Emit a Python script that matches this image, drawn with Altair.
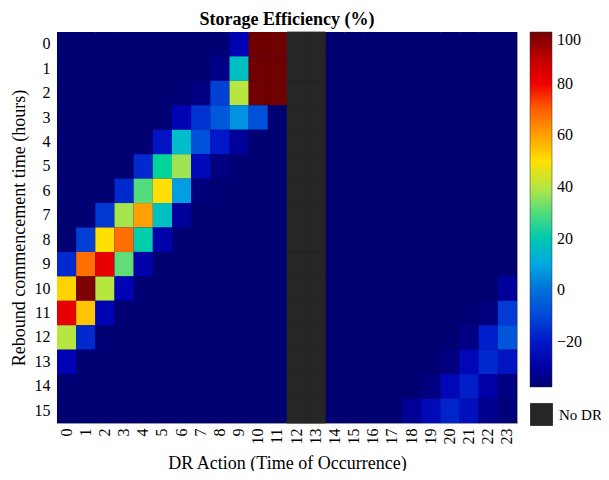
import altair as alt
import pandas as pd

hours = list(range(24))
rebound = list(range(16))
N = None
B = -37

r0 = [B, B, B, B, B, B, B, B, B, -27, 100, 100, N, N, B, B, B, B, B, B, B, B, B, B]
r1 = [B, B, B, B, B, B, B, B, -34, 17, 100, 100, N, N, B, B, B, B, B, B, B, B, B, B]
r2 = [B, B, B, B, B, B, B, -35, -12, 40, 100, 100, N, N, B, B, B, B, B, B, B, B, B, B]
r3 = [B, B, B, B, B, B, -27, -15, -6, 6, -8, B, N, N, B, B, B, B, B, B, B, B, B, B]
r4 = [B, B, B, B, B, -22, 16, -8, -20, -31, B, B, N, N, B, B, B, B, B, B, B, B, B, B]
r5 = [B, B, B, B, -17, 25, 37, -25, -35, B, B, B, N, N, B, B, B, B, B, B, B, B, B, B]
r6 = [B, B, B, -17, 30, 50, 8, -36, B, B, B, B, N, N, B, B, B, B, B, B, B, B, B, B]
r7 = [B, B, -14, 38, 60, 17, -31, B, B, B, B, B, N, N, B, B, B, B, B, B, B, B, B, B]
r8 = [B, -12, 50, 68, 22, -29, B, B, B, B, B, B, N, N, B, B, B, B, B, B, B, B, B, B]
r9 = [-17, 68, 82, 31, -29, B, B, B, B, B, B, B, N, N, B, B, B, B, B, B, B, B, B, B]
r10 = [52, 98, 40, -27, B, B, B, B, B, B, B, B, N, N, B, B, B, B, B, B, B, B, B, -31]
r11 = [82, 54, -27, B, B, B, B, B, B, B, B, B, N, N, B, B, B, B, B, B, B, B, -35, -13]
r12 = [40, -17, B, B, B, B, B, B, B, B, B, B, N, N, B, B, B, B, B, B, B, -34, -19, -7]
r13 = [-27, B, B, B, B, B, B, B, B, B, B, B, N, N, B, B, B, B, B, B, -35, -26, -17, -22]
r14 = [B, B, B, B, B, B, B, B, B, B, B, B, N, N, B, B, B, B, B, -35, -26, -19, -29, -35]
r15 = [B, B, B, B, B, B, B, B, B, B, B, B, N, N, B, B, B, B, -32, -25, -18, -23, -33, -36]
rows = [r0, r1, r2, r3, r4, r5, r6, r7, r8, r9, r10, r11, r12, r13, r14, r15]

legend_values = [-20, 0, 20, 40, 60, 80, 100]
cmap_stops = [-37.5, -28, -20, -10, 0, 10, 20, 27, 35, 42, 50, 60, 70, 80, 90, 100]
cmap_colors = ["#000070", "#0000b0", "#0018c8", "#0048d8", "#0070d8", "#00a8e0",
               "#00c8b0", "#10d890", "#90e060", "#c8e830", "#ffe000", "#ffa000",
               "#ff6000", "#f00000", "#c00000", "#700000"]

cells, nodr = [], []
for i, row in enumerate(rows):
    for j, v in enumerate(row):
        if v is None:
            nodr.append({"x": j, "y": i, "k": "No DR"})
        else:
            cells.append({"x": j, "y": i, "v": v})
cells = pd.DataFrame(cells)
nodr = pd.DataFrame(nodr)

FONT = "Liberation Serif"

xenc = alt.X("x:O", scale=alt.Scale(domain=hours, paddingInner=0, paddingOuter=0),
             axis=alt.Axis(title="DR Action (Time of Occurrence)", labelAngle=-90,
                           ticks=False, domain=False, grid=False, labelPadding=5,
                           titlePadding=10, labelFont=FONT))
yenc = alt.Y("y:O", scale=alt.Scale(domain=rebound, paddingInner=0, paddingOuter=0),
             axis=alt.Axis(title="Rebound commencement time (hours)", labelAngle=0,
                           ticks=False, domain=False, grid=False, labelPadding=7,
                           titlePadding=6, labelFont=FONT))

heat = alt.Chart(cells).mark_rect(strokeWidth=0).encode(
    x=xenc, y=yenc,
    color=alt.Color("v:Q",
                    scale=alt.Scale(domain=cmap_stops, range=cmap_colors, clamp=True),
                    legend=alt.Legend(title=None, orient="none", legendX=473, legendY=0,
                                      direction="vertical", gradientLength=355,
                                      gradientThickness=22, values=legend_values,
                                      gradientStrokeColor="#333", gradientStrokeWidth=0.5,
                                      labelFont=FONT, labelFontSize=16, labelColor="black",
                                      labelOffset=5)),
)

nd = alt.Chart(nodr).mark_rect(stroke="#262626", strokeWidth=0.8).encode(
    x=xenc, y=yenc,
    color=alt.Color("k:N", scale=alt.Scale(domain=["No DR"], range=["#262626"]),
                    legend=alt.Legend(title=None, orient="none", legendX=473, legendY=371,
                                      symbolType="square", symbolSize=520,
                                      symbolStrokeWidth=0, symbolOpacity=1,
                                      labelFont=FONT, labelFontSize=15, labelColor="black",
                                      labelOffset=6, labelLimit=100, padding=0)),
)

chart = (heat + nd).resolve_scale(color="independent").properties(
    width=460, height=391,
    title=alt.Title("Storage Efficiency (%)", font=FONT, fontSize=18, fontWeight="bold",
                    color="black", offset=3),
    autosize=alt.AutoSizeParams(type="none"),
    padding={"left": 49, "top": 24, "right": 84, "bottom": 48},
).configure_axis(
    labelFont=FONT, labelFontSize=16, labelColor="black",
    titleFont=FONT, titleFontSize=18, titleFontWeight="normal", titleColor="black",
).configure_view(stroke="#999999", strokeWidth=1, fill="#000070")

chart.save("out.html", embed_options={"renderer": "svg", "actions": False})
